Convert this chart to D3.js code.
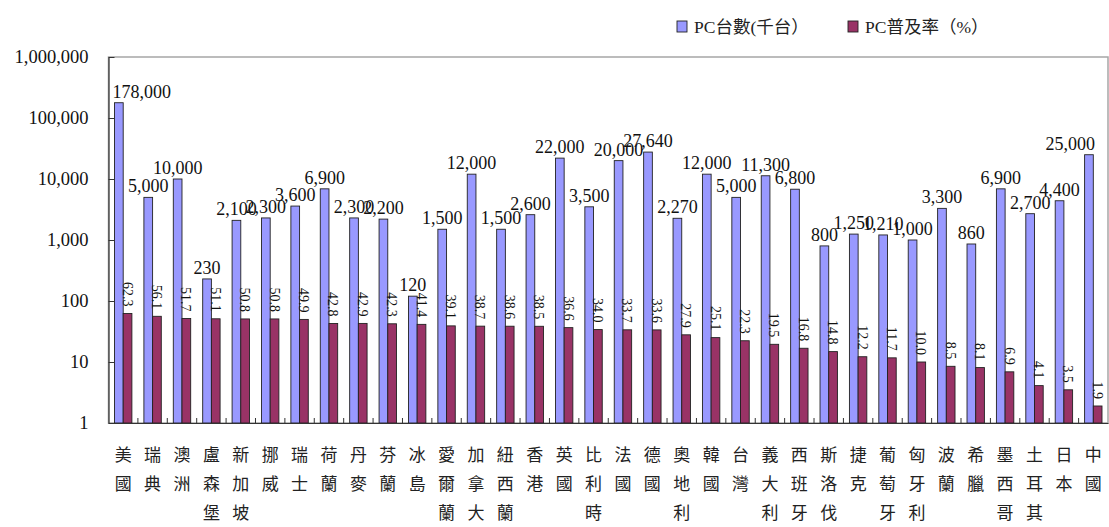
<!DOCTYPE html>
<html>
<head>
<meta charset="utf-8">
<script src="https://cdn.jsdelivr.net/npm/d3@7"></script>
<style>
  body { margin: 0; background: #fff; }
  svg { display: block; }
</style>
</head>
<body>
<svg class="chart"></svg>
<script>
const width = 1109;
const height = 527;
const margin = { top: 57, right: 1, bottom: 104, left: 108.5 };

const countries = [
  "美國", "瑞典", "澳洲", "盧森堡", "新加坡", "挪威", "瑞士", "荷蘭", "丹麥", "芬蘭",
  "冰島", "愛爾蘭", "加拿大", "紐西蘭", "香港", "英國", "比利時", "法國", "德國", "奧地利",
  "韓國", "台灣", "義大利", "西班牙", "斯洛伐", "捷克", "葡萄牙", "匈牙利", "波蘭", "希臘",
  "墨西哥", "土耳其", "日本", "中國"
];
// PC台數(千台)
const pcCount = [
  178000, 5000, 10000, 230, 2100, 2300, 3600, 6900, 2300, 2200,
  120, 1500, 12000, 1500, 2600, 22000, 3500, 20000, 27640, 2270,
  12000, 5000, 11300, 6800, 800, 1250, 1210, 1000, 3300, 860,
  6900, 2700, 4400, 25000
];
// PC普及率(%)
const pcRate = [
  62.3, 56.1, 51.7, 51.1, 50.8, 50.8, 49.9, 42.8, 42.9, 42.3,
  41.4, 39.1, 38.7, 38.6, 38.5, 36.6, 34.0, 33.7, 33.6, 27.9,
  25.1, 22.3, 19.5, 16.8, 14.8, 12.2, 11.7, 10.0, 8.5, 8.1,
  6.9, 4.1, 3.5, 1.9
];
const yTicks = [1, 10, 100, 1000, 10000, 100000, 1000000];
const seriesNames = ["PC台數(千台）", "PC普及率（%）"];
const seriesKeys = ["count", "rate"];
const colors = ["#9999ff", "#993366"];

const serif = "'Liberation Serif', 'Times New Roman', serif";
const cjk = "'Noto Sans CJK TC', 'Noto Sans CJK SC', sans-serif";

const data = countries.map((c, i) => ({ name: c, count: pcCount[i], rate: pcRate[i] }));

const svg = d3.select(".chart").attr("width", width).attr("height", height);

const x0 = d3.scaleBand().domain(countries).range([margin.left, width - margin.right]);
const x1 = d3.scaleBand().domain(seriesKeys).range([6, x0.bandwidth() - 6]);
const y = d3.scaleLog().domain([1, 1000000]).range([height - margin.bottom, margin.top]);

// plot area border
svg.append("rect")
  .attr("x", margin.left)
  .attr("y", margin.top)
  .attr("width", width - margin.right - margin.left)
  .attr("height", height - margin.bottom - margin.top)
  .attr("fill", "none")
  .attr("stroke", "#a6a6a6")
  .attr("stroke-width", 1.5);

// bars
const groups = svg.append("g")
  .selectAll("g")
  .data(data)
  .join("g")
  .attr("transform", d => `translate(${x0(d.name)},0)`);

seriesKeys.forEach((k, si) => {
  groups.append("rect")
    .attr("x", x1(k))
    .attr("y", d => y(d[k]))
    .attr("width", x1.bandwidth())
    .attr("height", d => y(1) - y(d[k]))
    .attr("fill", colors[si])
    .attr("stroke", "#222")
    .attr("stroke-width", 0.9);
});

// value labels for count, kept inside the plot area like Excel does
const countLabels = groups.append("text")
  .attr("x", x1("count") + x1.bandwidth() / 2)
  .attr("y", d => y(d.count) - 5)
  .attr("text-anchor", "middle")
  .style("font-family", serif)
  .style("font-size", "18px")
  .attr("fill", "#111")
  .text(d => d3.format(",")(d.count));

countLabels.each(function (d) {
  const bb = this.getBBox();
  const gx = x0(d.name);
  let shift = 0;
  if (gx + bb.x < margin.left + 4) shift = margin.left + 4 - (gx + bb.x);
  if (gx + bb.x + bb.width > width - 14) shift = width - 14 - (gx + bb.x + bb.width);
  if (shift) d3.select(this).attr("x", x1("count") + x1.bandwidth() / 2 + shift);
});

// value labels for rate (rotated)
groups.append("text")
  .attr("transform", d => `translate(${x1("rate") + x1.bandwidth() / 2},${y(d.rate) - 7}) rotate(90)`)
  .attr("dy", "0.35em")
  .attr("text-anchor", "end")
  .style("font-family", serif)
  .style("font-size", "14px")
  .attr("fill", "#111")
  .text(d => d3.format(".1f")(d.rate));

// y axis
const yAxis = svg.append("g")
  .attr("transform", `translate(${margin.left},0)`)
  .call(d3.axisLeft(y).tickValues(yTicks).tickFormat(d3.format(",")).tickSizeInner(-6).tickSizeOuter(0).tickPadding(20));
yAxis.select(".domain").attr("stroke", "#333").attr("stroke-width", 1.2);
yAxis.selectAll(".tick line").attr("stroke", "#333");
yAxis.selectAll("text")
  .style("font-family", serif)
  .style("font-size", "18.5px")
  .attr("fill", "#111");

// x axis
const xAxis = svg.append("g")
  .attr("transform", `translate(0,${height - margin.bottom})`)
  .call(d3.axisBottom(x0).tickSize(0).tickFormat(""));
xAxis.select(".domain").attr("stroke", "#333").attr("stroke-width", 1.2);

xAxis.selectAll(".sep")
  .data(countries.slice(1))
  .join("line")
  .attr("class", "sep")
  .attr("x1", d => x0(d))
  .attr("x2", d => x0(d))
  .attr("y1", 0)
  .attr("y2", -5)
  .attr("stroke", "#333");

// category labels, written vertically
const catLabels = svg.append("g")
  .selectAll("text")
  .data(countries)
  .join("text")
  .attr("x", d => x0(d) + x0.bandwidth() / 2)
  .attr("y", 461)
  .attr("text-anchor", "middle")
  .style("font-family", cjk)
  .style("font-size", "17px")
  .attr("fill", "#222");

catLabels.selectAll("tspan")
  .data(d => Array.from(d))
  .join("tspan")
  .attr("x", function () { return d3.select(this.parentNode).attr("x"); })
  .attr("dy", (d, i) => (i === 0 ? 0 : 29))
  .text(d => d);

// legend
const legendX = [677, 848];
const legend = svg.append("g")
  .selectAll("g")
  .data(seriesNames)
  .join("g")
  .attr("transform", (d, i) => `translate(${legendX[i]},21)`);

legend.append("rect")
  .attr("width", 10)
  .attr("height", 11)
  .attr("fill", (d, i) => colors[i])
  .attr("stroke", "#222")
  .attr("stroke-width", 0.9);

legend.append("text")
  .attr("x", 17)
  .attr("y", 6)
  .attr("dy", "0.35em")
  .style("font-family", serif + ", " + cjk)
  .style("font-size", "17.5px")
  .attr("fill", "#222")
  .text(d => d);
</script>
</body>
</html>
